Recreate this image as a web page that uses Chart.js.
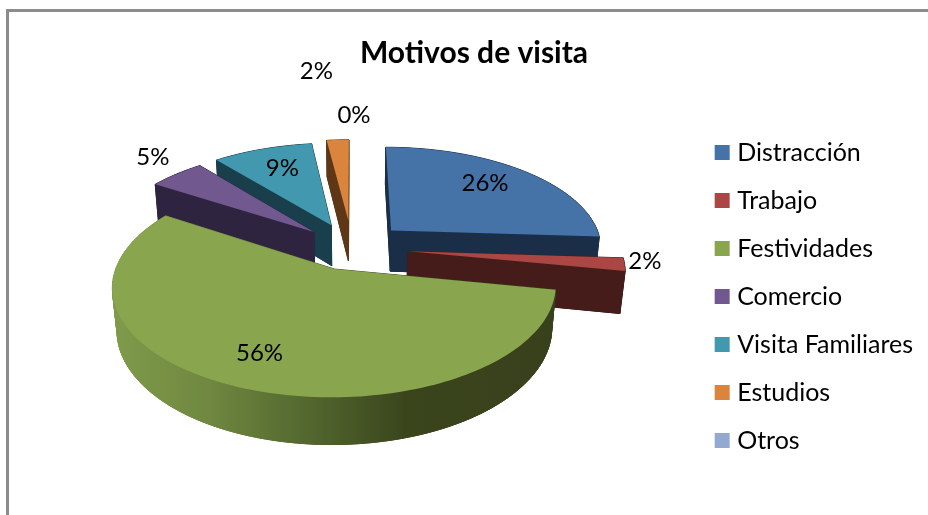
<!DOCTYPE html>
<html><head><meta charset="utf-8">
<style>
html,body{margin:0;padding:0;background:#fff;overflow:hidden}
#frame{position:absolute;left:6px;top:9px;width:930px;height:520px;border-left:3px solid #8c8c8c;border-top:3px solid #8c8c8c;box-sizing:border-box}
canvas{position:absolute;left:0;top:0}
</style>
<script src="https://cdn.jsdelivr.net/npm/chart.js@4"></script>
</head><body>
<div id="frame"></div>
<canvas id="c" width="928" height="515"></canvas>
<script>
const categories = ["Distracción","Trabajo","Festividades","Comercio","Visita Familiares","Estudios","Otros"];
const percentages = [26,2,56,5,9,2,0];
const explode = [55,56,46,52,54,60,0];
const topColors = ["#4572a7","#aa4643","#89a54e","#71588f","#4198af","#db843d","#93a9cf"];
const wallColors = ["#1a2e47","#451c1a",null,"#2e2440","#1a3f4c","#5e3816","#3a4560"];
const paintOrder = [6,4,5,0,1,3,2];
const labelShift = [[94,-47],[237,10],[-75,84],[-161,-75],[-49,-57],[-32,-149],[2,-133]];

const cam = {cx:352, cy:248, R:212, s:0.477, c:0.879, d:1204, H:48};
function project(x,y,z){
  const w = 1 + (y*cam.c - z*cam.s)/cam.d;
  return [cam.cx + x/w, cam.cy - (y*cam.s + z*cam.c)/w];
}
function tracePath(ctx,pts){
  ctx.beginPath();
  pts.forEach((p,i)=> i?ctx.lineTo(p[0],p[1]):ctx.moveTo(p[0],p[1]));
  ctx.closePath();
}
const pie3d = {
  id:'pie3d',
  beforeDatasetsDraw(chart){
    const ctx = chart.ctx, meta = chart.getDatasetMeta(0);
    const greenWall = ctx.createLinearGradient(113,0,556,0);
    greenWall.addColorStop(0,'#7f9b4a');
    greenWall.addColorStop(0.22,'#6f8740');
    greenWall.addColorStop(0.42,'#556a30');
    greenWall.addColorStop(0.66,'#3a451c');
    greenWall.addColorStop(1,'#38401c');
    const apex = [];
    meta.data.forEach((el,i)=>{
      const p = el.getProps(['startAngle','endAngle']);
      const mid = (p.startAngle+p.endAngle)/2;
      apex[i] = [el.options.offset*Math.cos(mid), -el.options.offset*Math.sin(mid)];
    });
    ctx.save();
    paintOrder.forEach(i=>{
      const el = meta.data[i];
      const p = el.getProps(['startAngle','endAngle']);
      if (percentages[i] <= 0) return;
      const [ax,ay] = apex[i];
      const n = Math.max(4,Math.ceil((p.endAngle-p.startAngle)*40));
      const ring = [];
      for (let k=0;k<=n;k++){
        const t = p.startAngle + (p.endAngle-p.startAngle)*k/n;
        ring.push([ax+cam.R*Math.cos(t), ay-cam.R*Math.sin(t)]);
      }
      const loop = [[ax,ay],...ring];
      const wall = wallColors[i] || greenWall;
      ctx.fillStyle = wall; ctx.strokeStyle = wall; ctx.lineWidth = 1;
      tracePath(ctx,loop.map(q=>project(q[0],q[1],-cam.H))); ctx.fill(); ctx.stroke();
      loop.forEach((q,k)=>{
        const r = loop[(k+1)%loop.length];
        tracePath(ctx,[project(q[0],q[1],0),project(r[0],r[1],0),project(r[0],r[1],-cam.H),project(q[0],q[1],-cam.H)]);
        ctx.fill(); ctx.stroke();
      });
      ctx.fillStyle = el.options.backgroundColor;
      tracePath(ctx,loop.map(q=>project(q[0],q[1],0))); ctx.fill();
    });
    ctx.fillStyle = '#000';
    ctx.font = '24px Lato';
    ctx.textAlign = 'center'; ctx.textBaseline = 'middle';
    meta.data.forEach((el,i)=>{
      const [ax,ay] = apex[i];
      const o = project(ax,ay,0);
      ctx.fillText(percentages[i]+'%', o[0]+labelShift[i][0], o[1]+labelShift[i][1]);
    });
    ctx.restore();
    return false;
  }
};
new Chart(document.getElementById('c'),{
  type:'pie',
  data:{labels:categories,datasets:[{data:percentages,backgroundColor:topColors,offset:explode,borderWidth:0}]},
  options:{
    responsive:false,animation:false,events:[],
    layout:{padding:{left:25,right:5,top:0,bottom:3}},
    plugins:{
      tooltip:{enabled:false},
      title:{display:true,text:'Motivos de visita',color:'#000',font:{family:'Lato',size:30,weight:'bold'},padding:{top:35,bottom:10}},
      legend:{position:'right',fullSize:false,labels:{
        color:'#111',font:{family:'Lato',size:25},
        boxWidth:5,boxHeight:5,padding:23,
        generateLabels(chart){
          return categories.map((t,i)=>({text:t,fillStyle:topColors[i],strokeStyle:topColors[i],lineWidth:10,hidden:false,index:i}));
        }
      }}
    }
  },
  plugins:[pie3d]
});
</script>
</body></html>
